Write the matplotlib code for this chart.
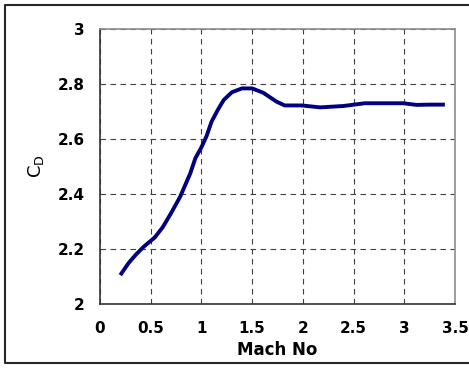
import matplotlib.pyplot as plt
from matplotlib.lines import Line2D

mach = [0.20, 0.28, 0.35, 0.43, 0.54, 0.62, 0.70, 0.79, 0.89, 0.94, 1.00, 1.05,
        1.10, 1.16, 1.22, 1.30, 1.40, 1.50, 1.61, 1.74, 1.82, 1.99, 2.17, 2.40,
        2.61, 2.80, 2.99, 3.12, 3.25, 3.40]
cd = [2.105, 2.148, 2.178, 2.208, 2.242, 2.280, 2.330, 2.390, 2.475, 2.530, 2.570, 2.610,
      2.663, 2.705, 2.742, 2.770, 2.784, 2.784, 2.768, 2.736, 2.722, 2.722, 2.715, 2.720,
      2.730, 2.730, 2.730, 2.724, 2.725, 2.725]

xticks = [0, 0.5, 1, 1.5, 2, 2.5, 3, 3.5]
xticklabels = ["0", "0.5", "1", "1.5", "2", "2.5", "3", "3.5"]
yticks = [2, 2.2, 2.4, 2.6, 2.8, 3]
yticklabels = ["2", "2.2", "2.4", "2.6", "2.8", "3"]

plt.rcParams["font.family"] = ["DejaVu Sans"]

fig = plt.figure(figsize=(4.69, 3.68), dpi=100)
W, H = 469, 368
ax = fig.add_axes([100 / W, 1 - 304 / H, 355 / W, 275 / H])

ax.plot(mach, cd, color="#000080", linewidth=2.8, solid_capstyle="butt")

ax.set_xlim(0, 3.5)
ax.set_ylim(2, 3)
ax.set_xticks(xticks)
ax.set_xticklabels(xticklabels)
ax.set_yticks(yticks)
ax.set_yticklabels(yticklabels)
ax.tick_params(axis="x", length=0, labelsize=11, pad=12)
ax.tick_params(axis="y", length=0, labelsize=11, pad=11)
for lab in ax.get_xticklabels() + ax.get_yticklabels():
    lab.set_fontweight("bold")
ax.grid(True, color="0.25", linestyle=(0, (5, 4)), linewidth=0.8)

for side in ("left", "bottom"):
    ax.spines[side].set_color("0.2")
    ax.spines[side].set_linewidth(1.2)
for side in ("top", "right"):
    ax.spines[side].set_color("0.55")
    ax.spines[side].set_linewidth(1.2)

ax.set_xlabel("Mach No", fontsize=12, fontweight="bold", labelpad=4)
ax.set_ylabel("$\\mathsf{C_D}$", fontsize=13, labelpad=8)

# outer frame (right side runs off the image)
x0, x1 = 4.5 / W, 1.0
y0, y1 = 1 - 363 / H, 1 - 5 / H
fig.add_artist(Line2D([x1, x0, x0, x1], [y1, y1, y0, y0], transform=fig.transFigure,
                      color="0.15", linewidth=1.5))

fig.savefig("out.png", dpi=100)
